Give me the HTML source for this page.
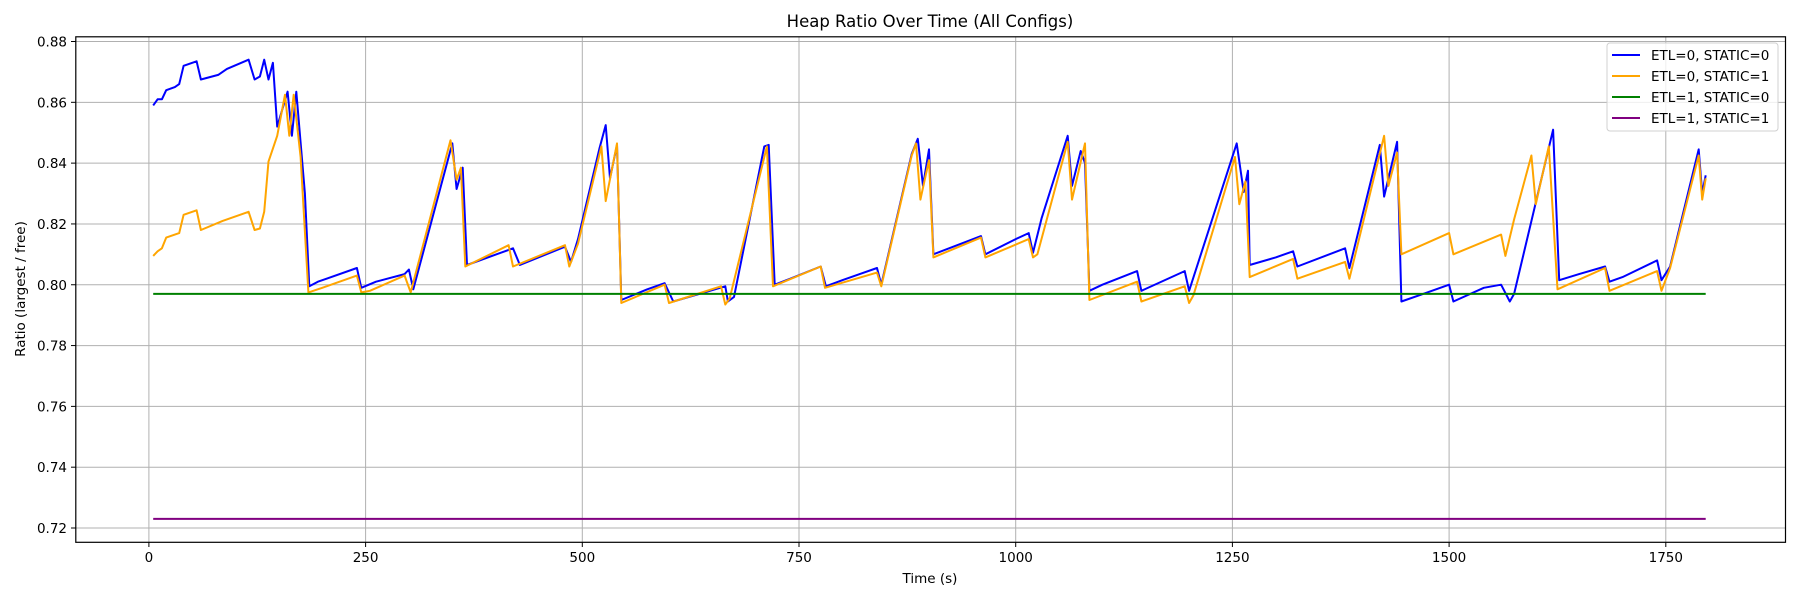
<!DOCTYPE html>
<html><head><meta charset="utf-8"><style>
html,body{margin:0;padding:0;background:#fff;}
svg{display:block;font-family:"DejaVu Sans","Liberation Sans",sans-serif;}
</style></head><body>
<svg id="chart" width="1800" height="600" viewBox="0 0 1800 600">
<rect x="0" y="0" width="1800" height="600" fill="#fff"/>
<text x="930" y="27" text-anchor="middle" font-size="16.5">Heap Ratio Over Time (All Configs)</text>
<g id="grid"></g>
<g id="series"></g>
<rect x="75.8" y="36.8" width="1709.7" height="505.5" fill="none" stroke="#000" stroke-width="1.2"/>
<g id="ticks"></g>
<text x="930" y="583" text-anchor="middle" font-size="13.5">Time (s)</text>
<text transform="translate(25,289) rotate(-90)" text-anchor="middle" font-size="13.5">Ratio (largest / free)</text>
<g id="legend"></g>
</svg>
<script>
const xTicks=[0,250,500,750,1000,1250,1500,1750];
const yTicks=[0.72,0.74,0.76,0.78,0.80,0.82,0.84,0.86,0.88];
const seriesNames=["ETL=0, STATIC=0","ETL=0, STATIC=1","ETL=1, STATIC=0","ETL=1, STATIC=1"];
const seriesColors=["#0000ff","#ffa500","#008000","#800080"];
const blueT=[5,10,15,20,30,35,40,55,60,80,90,115,122,128,133,138,143,148,160,165,170,180,185,195,205,240,245,262,275,295,300,305,350,355,362,367,420,428,480,487,495,520,527,532,540,545,575,590,595,605,665,668,675,710,715,722,740,775,781,800,820,840,845,880,887,893,900,905,960,965,1000,1015,1020,1030,1060,1065,1075,1080,1085,1100,1140,1145,1195,1200,1255,1263,1268,1270,1300,1320,1325,1380,1385,1420,1425,1440,1445,1470,1500,1505,1540,1560,1570,1575,1620,1627,1650,1680,1685,1700,1740,1745,1755,1788,1792,1796];
const blueV=[0.859,0.861,0.861,0.864,0.865,0.866,0.872,0.8735,0.8675,0.869,0.871,0.874,0.8675,0.8685,0.874,0.8675,0.873,0.852,0.8635,0.849,0.8635,0.83,0.7995,0.801,0.802,0.8055,0.799,0.801,0.802,0.8035,0.805,0.7985,0.8465,0.8315,0.8385,0.8065,0.812,0.8065,0.8125,0.8075,0.815,0.845,0.8525,0.835,0.846,0.795,0.7985,0.8,0.8005,0.7945,0.7995,0.7945,0.796,0.8455,0.846,0.8,0.802,0.806,0.7995,0.8015,0.8035,0.8055,0.8,0.843,0.848,0.8325,0.8445,0.81,0.816,0.81,0.815,0.817,0.8105,0.822,0.849,0.8325,0.844,0.84,0.798,0.8,0.8045,0.798,0.8045,0.798,0.8465,0.8305,0.8375,0.8065,0.809,0.811,0.806,0.812,0.8055,0.846,0.829,0.847,0.7945,0.797,0.8,0.7945,0.799,0.8,0.7945,0.797,0.851,0.8015,0.8035,0.806,0.801,0.8025,0.808,0.8015,0.806,0.8445,0.83,0.836];
const orangeT=[5,10,15,20,35,40,55,60,85,115,122,128,133,138,148,157,162,167,175,184,200,240,245,255,295,302,348,355,360,365,415,420,480,485,495,522,527,540,545,595,600,660,665,670,713,720,775,780,840,845,880,885,890,900,905,960,965,1015,1020,1025,1060,1065,1080,1085,1140,1145,1195,1200,1205,1253,1258,1265,1270,1320,1325,1380,1385,1425,1430,1440,1445,1500,1505,1560,1565,1575,1595,1600,1615,1625,1680,1685,1740,1745,1755,1788,1792,1796];
const orangeV=[0.8095,0.811,0.812,0.8155,0.817,0.823,0.8245,0.818,0.821,0.824,0.818,0.8185,0.824,0.8405,0.849,0.8625,0.849,0.8625,0.842,0.7975,0.799,0.803,0.7975,0.798,0.803,0.7975,0.8475,0.8345,0.8385,0.806,0.813,0.806,0.813,0.806,0.8135,0.8455,0.8275,0.8465,0.794,0.8,0.794,0.7995,0.7935,0.7955,0.8455,0.7995,0.806,0.799,0.804,0.7995,0.8425,0.8465,0.828,0.841,0.809,0.8155,0.809,0.815,0.809,0.81,0.847,0.828,0.8465,0.795,0.801,0.7945,0.7995,0.794,0.7965,0.842,0.8265,0.834,0.8025,0.8085,0.802,0.8075,0.802,0.849,0.8325,0.8435,0.81,0.817,0.81,0.8165,0.8095,0.8215,0.8425,0.8265,0.8455,0.7985,0.8055,0.798,0.8045,0.798,0.8055,0.8425,0.828,0.835];
const greenT=[5,1796];
const greenV=[0.797,0.797];
const purpleT=[5,1796];
const purpleV=[0.723,0.723];

const NS="http://www.w3.org/2000/svg";
function X(t){return 148.9+t*(216.7/250);}
function Y(v){return 41.5+(0.88-v)*(486.5/0.16);}
function mk(tag,attrs,parent){const e=document.createElementNS(NS,tag);for(const k in attrs)e.setAttribute(k,attrs[k]);parent.appendChild(e);return e;}
const grid=document.getElementById('grid'),ticks=document.getElementById('ticks'),ser=document.getElementById('series'),leg=document.getElementById('legend');
xTicks.forEach(t=>{
  const g=mk('line',{x1:X(t),x2:X(t),y1:36.8,y2:542.3,stroke:'#b0b0b0','stroke-width':1},grid);
  
  
  const tk=mk('line',{x1:X(t),x2:X(t),y1:542.3,y2:547,stroke:'#000','stroke-width':1},ticks);
  
  
  const l=mk('text',{x:X(t),y:562,'text-anchor':'middle','font-size':13.5},ticks);
  l.textContent=String(t);
  
  
});
yTicks.forEach(v=>{
  const g=mk('line',{x1:75.8,x2:1785.5,y1:Y(v),y2:Y(v),stroke:'#b0b0b0','stroke-width':1},grid);
  
  
  const tk=mk('line',{x1:71,x2:75.8,y1:Y(v),y2:Y(v),stroke:'#000','stroke-width':1},ticks);
  
  
  const l=mk('text',{x:67,y:Y(v)+5,'text-anchor':'end','font-size':13.5},ticks);
  l.textContent=v.toFixed(2);
  
  
});
const all=[[blueT,blueV],[orangeT,orangeV],[greenT,greenV],[purpleT,purpleV]];
all.forEach((s,i)=>{
  const d=s[0].map((t,j)=>(j?'L':'M')+X(t).toFixed(1)+','+Y(s[1][j]).toFixed(1)).join(' ');
  const p=mk('path',{d:d,fill:'none',stroke:seriesColors[i],'stroke-width':2,'stroke-linejoin':'round'},ser);
  
  
});
const box=mk('rect',{x:1607,y:43,width:171,height:88,rx:3,fill:'#fff','fill-opacity':0.8,stroke:'#d0d0d0','stroke-width':1},leg);


seriesNames.forEach((n,i)=>{
  const y=55+i*21;
  const ln=mk('line',{x1:1612,x2:1640,y1:y,y2:y,stroke:seriesColors[i],'stroke-width':2},leg);
  
  
  const tx=mk('text',{x:1651,y:y+5,'font-size':13.5},leg);
  tx.textContent=n;
  
  
});
</script>
</body></html>
